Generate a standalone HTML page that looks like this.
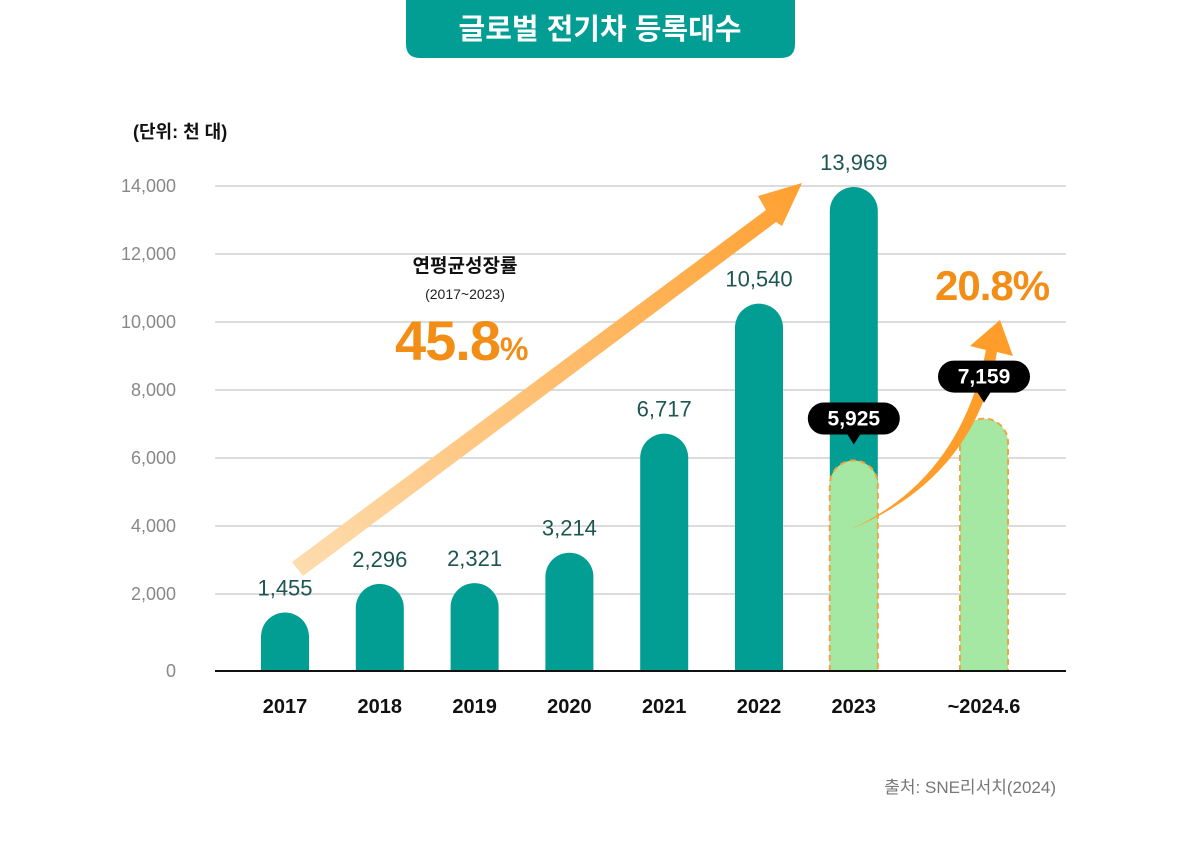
<!DOCTYPE html>
<html><head><meta charset="utf-8"><style>
body{margin:0;background:#fff;}
svg{display:block;font-family:"Liberation Sans","Noto Sans CJK KR",sans-serif;}
</style></head><body>
<svg id="chart" width="1200" height="852" viewBox="0 0 1200 852">
<defs>
<linearGradient id="ag" x1="298" y1="569" x2="802" y2="183" gradientUnits="userSpaceOnUse">
<stop offset="0" stop-color="#fedcae"/><stop offset="1" stop-color="#ffa030"/></linearGradient>
</defs>
<g>
<path d="M406 0H795V44Q795 58 781 58H420Q406 58 406 44Z" fill="#029d93"/>
<text x="600" y="39" text-anchor="middle" font-size="29" font-weight="bold" fill="#fff">글로벌 전기차 등록대수</text>
</g>
<text x="133" y="138" font-size="18" font-weight="bold" fill="#111">(단위: 천 대)</text>
<g id="grid"></g>
<g id="bars"></g>
<line x1="215" y1="671" x2="1066" y2="671" stroke="#111" stroke-width="2"/>
<g>
<path d="M292 562L766 210L758 196L802 183L782 226L776 222L303 576Z" fill="url(#ag)"/>
</g>
<g>
<text x="465" y="272" text-anchor="middle" font-size="19" font-weight="bold" fill="#111">연평균성장률</text>
<text x="465" y="299" text-anchor="middle" font-size="14" fill="#222">(2017~2023)</text>
<text x="395" y="360" font-size="56" font-weight="bold" fill="#f28d16" letter-spacing="-1">45.8<tspan font-size="32">%</tspan></text>
</g>
<g>
<path d="M849 530Q960 480 986 350L970 346L1000 320L1013 356L997 352Q975 478 849 530Z" fill="#ff9d2a"/>
</g>
<text x="935" y="300" font-size="42" font-weight="bold" fill="#f28d16" letter-spacing="-1">20.8%</text>
<g id="bubbles"></g>
<text x="1056" y="793" text-anchor="end" font-size="17" fill="#777">출처: SNE리서치(2024)</text>
</svg>
<script>
const categories=["2017","2018","2019","2020","2021","2022","2023","~2024.6"];
const totals=[1455,2296,2321,3214,6717,10540,13969,null];
const partial=[null,null,null,null,null,null,5925,7159];
const yTicks=[0,2000,4000,6000,8000,10000,12000,14000];
const NS="http://www.w3.org/2000/svg";
const y=v=>662-v*0.034;
const xc=i=>i<7?285+i*94.8:984;
const fmt=v=>v.toLocaleString("en-US");
function mk(t,a,p){const e=document.createElementNS(NS,t);for(const k in a)e.setAttribute(k,a[k]);p.appendChild(e);return e;}
const grid=document.getElementById("grid"),bars=document.getElementById("bars"),bub=document.getElementById("bubbles");
yTicks.forEach(v=>{
 if(v>0){const l=mk("line",{x1:215,x2:1066,y1:y(v),y2:y(v),stroke:"#d0d0d0","stroke-width":1.5},grid);
 
 }
 const t=mk("text",{x:176,y:(v?y(v):671)+6,"text-anchor":"end","font-size":18,fill:"#888"},grid);
 t.textContent=fmt(v);
 
 
});
function bar(i,v,fill,dash){const w=48,x=xc(i)-24,top=y(v),r=24;
 const d=`M${x} 671V${top+r}A${r} ${r} 0 0 1 ${x+w} ${top+r}V671Z`;
 const a={d:d,fill:fill};if(dash){a.stroke="#f7a23c";a["stroke-width"]=2;a["stroke-dasharray"]="6 4";}
 return mk("path",a,bars);}
categories.forEach((c,i)=>{
 if(totals[i]!=null){const b=bar(i,totals[i],"#029d93");
  
  
  const t=mk("text",{x:xc(i),y:y(totals[i])-17,"text-anchor":"middle","font-size":22,fill:"#1d5552"},bars);
  t.textContent=fmt(totals[i]);
  
  }
 if(partial[i]!=null){const b=bar(i,partial[i],"#a4e8a3",true);
  
  
  const cx=xc(i),ty=y(partial[i])-28;
  const g=mk("g",{},bub);
  
  
  mk("rect",{x:cx-46,y:ty-30,width:92,height:32,rx:16,fill:"#000"},g);
  mk("path",{d:`M${cx-7} ${ty+1}L${cx+7} ${ty+1}L${cx} ${ty+12}Z`,fill:"#000"},g);
  const t=mk("text",{x:cx,y:ty-7,"text-anchor":"middle","font-size":21,"font-weight":"bold",fill:"#fff"},g);
  t.textContent=fmt(partial[i]);}
 const t=mk("text",{x:xc(i),y:713,"text-anchor":"middle","font-size":20,"font-weight":"bold",fill:"#111"},bars);
 t.textContent=c;
 
 
});
</script>
</body></html>
